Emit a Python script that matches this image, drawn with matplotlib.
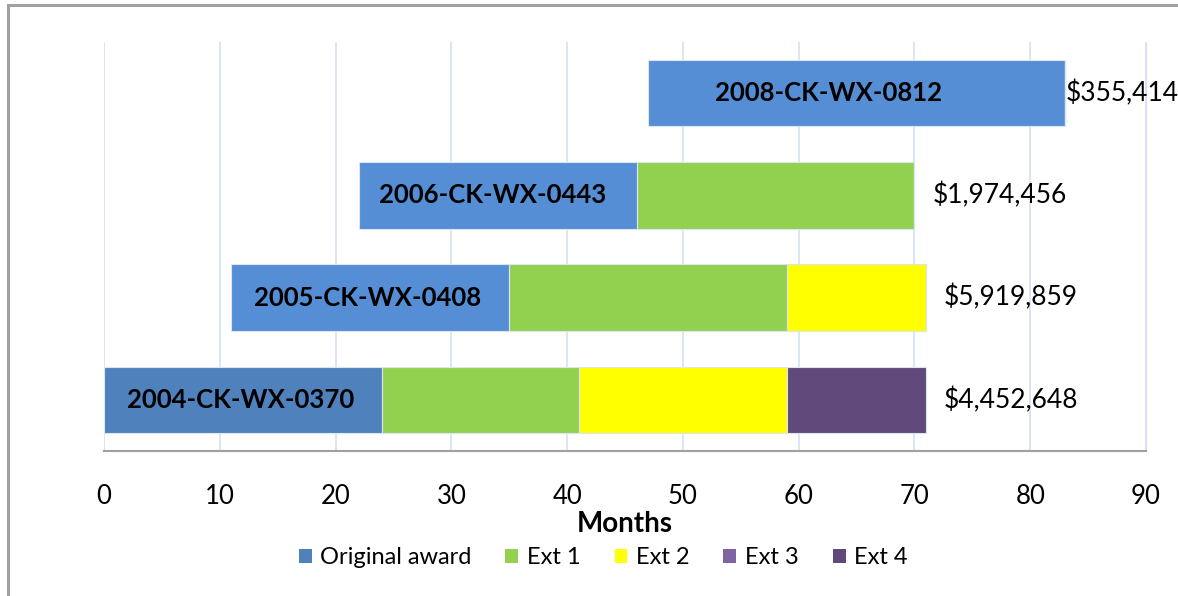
import numpy as np
import matplotlib.pyplot as plt
from matplotlib.patches import Rectangle, Patch

# data (months)
grants = ["2004-CK-WX-0370", "2005-CK-WX-0408", "2006-CK-WX-0443", "2008-CK-WX-0812"]
start = [0, 11, 22, 47]
original = [24, 24, 24, 36]
ext1 = [17, 24, 24, 0]
ext2 = [18, 12, 0, 0]
ext3 = [0, 0, 0, 0]
ext4 = [12, 0, 0, 0]
amounts = ["$4,452,648", "$5,919,859", "$1,974,456", "$355,414"]

series = ["Original award", "Ext 1", "Ext 2", "Ext 3", "Ext 4"]
colors = ["#4F81BD", "#92D050", "#FFFF00", "#8064A2", "#604A7B"]
orig_bar_colors = ["#4F81BD", "#558ED5", "#558ED5", "#558ED5"]
# label placement (months from bar start, points past bar end)
name_offset = [11.8, 11.8, 11.6, 15.6]
label_pad = [13, 13, 13, 0.5]

plt.rcParams['font.family'] = ['Lato', 'DejaVu Sans']

fig = plt.figure(figsize=(11.78, 5.96), dpi=100)
ax = fig.add_axes([104 / 1178, 1 - 451 / 596, (1146 - 104) / 1178, (451 - 42) / 596])

# outer chart frame
fig.patches.append(Rectangle((8 / 1178, -0.05), 1.1, 1 - 5 / 596 + 0.05, transform=fig.transFigure,
                             fill=False, edgecolor="#A0A0A0", linewidth=2.2))

y = np.arange(len(grants))
h = 0.65
left = np.array(start, dtype=float)
for vals, name, col in zip([original, ext1, ext2, ext3, ext4], series, colors):
    vals = np.array(vals, dtype=float)
    c = orig_bar_colors if name == "Original award" else col
    ax.barh(y, vals, h, left=left, color=c, edgecolor="#DCE6F2", linewidth=0.8, zorder=3)
    left = left + vals

for i in range(len(grants)):
    ax.text(start[i] + name_offset[i], y[i], grants[i], ha="center", va="center",
            fontsize=18.5, fontweight="bold", color="black", zorder=4)
    ax.annotate(amounts[i], (left[i], y[i]), xytext=(label_pad[i], 0),
                textcoords="offset points", ha="left", va="center",
                fontsize=19, color="black", annotation_clip=False)

ax.set_xlim(0, 90)
ax.set_ylim(-0.5, 3.5)
ax.set_xticks(np.arange(0, 91, 10))
ax.set_yticks([])
ax.grid(axis="x", color="#D6E0F0", linewidth=1.2, zorder=0)
for s in ["left", "top"]:
    ax.spines[s].set_visible(False)
ax.spines["bottom"].set_color("#A0A0A0")
ax.spines["bottom"].set_linewidth(1.5)
ax.spines["right"].set_color("#D6E0F0")
ax.tick_params(axis="x", length=0, pad=24, labelsize=18.5)
ax.set_xlabel("Months", fontsize=20, fontweight="bold", labelpad=1.5)

handles = [Patch(facecolor=c, edgecolor="none") for c in colors]
fig.legend(handles, series, loc="center", bbox_to_anchor=(603 / 1178, 1 - 558 / 596), ncol=5,
           frameon=False, fontsize=17, handlelength=0.55, handleheight=0.55,
           handletextpad=0.35, columnspacing=1.45)

fig.savefig("out.png", dpi=100)
